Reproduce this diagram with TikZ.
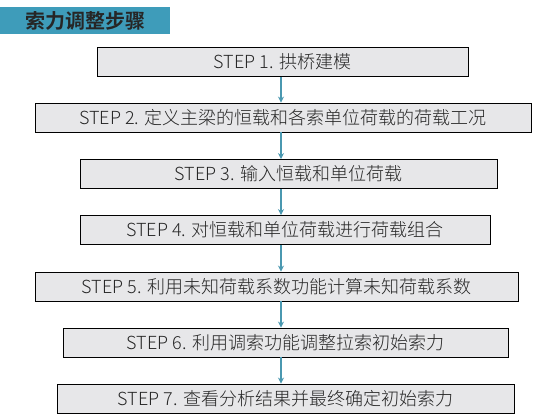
\documentclass[tikz,border=0pt]{standalone}
\usepackage{fontspec}
\setmainfont{Noto Sans CJK SC}[UprightFont={* Light}, BoldFont={* Bold}]
\usepackage{xcolor}
\usetikzlibrary{arrows.meta}
\definecolor{titleblue}{RGB}{62,156,186}
\definecolor{boxgray}{RGB}{231,231,233}
\definecolor{arrowblue}{RGB}{74,152,176}
\tikzset{
  stepbox/.style={draw=black, line width=0.9pt, fill=boxgray, minimum height=29pt,
    inner sep=0pt, text=black!85, font=\fontsize{18}{20}\selectfont},
  flow/.style={draw=arrowblue, line width=1.4pt, -{Stealth[length=6pt,width=6pt]}}
}
\begin{document}
\begin{tikzpicture}[x=1pt,y=-1pt]
  \useasboundingbox (0,0) rectangle (536,420);
  % title
  \node[fill=titleblue, minimum width=170pt, minimum height=27pt, inner sep=0pt,
    anchor=north west, text=black!85, font=\fontsize{20}{22}\selectfont\bfseries] (title) at (0,7) {索力调整步骤};

  \node[stepbox, minimum width=371pt] (s1) at (282.5,62) {STEP 1. 拱桥建模};
  \node[stepbox, minimum width=496pt] (s2) at (283,117.5) {STEP 2. 定义主梁的恒载和各索单位荷载的荷载工况};
  \node[stepbox, minimum width=417pt] (s3) at (288.5,174) {STEP 3. 输入恒载和单位荷载};
  \node[stepbox, minimum width=410pt] (s4) at (285,230) {STEP 4. 对恒载和单位荷载进行荷载组合};
  \node[stepbox, minimum width=483pt] (s5) at (276.5,286.5) {STEP 5. 利用未知荷载系数功能计算未知荷载系数};
  \node[stepbox, minimum width=445pt] (s6) at (285.5,342.5) {STEP 6. 利用调索功能调整拉索初始索力};
  \node[stepbox, minimum width=457pt] (s7) at (285.5,398.5) {STEP 7. 查看分析结果并最终确定初始索力};

  \coordinate (ax) at (281,0);
  \begin{scope}[every path/.style={flow}]
    \draw (s1.south -| ax) -- (s2.north -| ax);
    \draw (s2.south -| ax) -- (s3.north -| ax);
    \draw (s3.south -| ax) -- (s4.north -| ax);
    \draw (s4.south -| ax) -- (s5.north -| ax);
    \draw (s5.south -| ax) -- (s6.north -| ax);
    \draw (s6.south -| ax) -- (s7.north -| ax);
  \end{scope}
\end{tikzpicture}
\end{document}
